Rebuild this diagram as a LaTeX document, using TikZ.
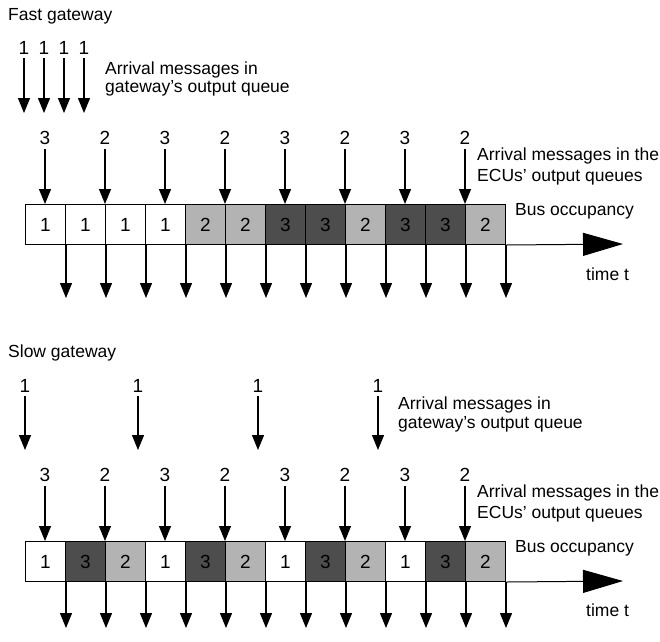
\documentclass[tikz,border=0pt]{standalone}
\usepackage{fontspec}
\setmainfont{Liberation Sans}
\usetikzlibrary{arrows.meta}
\definecolor{lightcell}{HTML}{B3B3B3}
\definecolor{darkcell}{HTML}{4D4D4D}
\tikzset{
  lbl/.style={font=\fontsize{17.5}{20}\selectfont, inner sep=0pt},
  num/.style={font=\fontsize{19}{21}\selectfont, inner sep=0pt},
  cell/.style={draw, line width=1pt, minimum size=40pt, inner sep=0pt, anchor=north west, font=\fontsize{19}{21}\selectfont},
  c1/.style={fill=white}, c2/.style={fill=lightcell}, c3/.style={fill=darkcell},
  arr/.style={line width=1.2pt, -{Triangle[length=15pt,width=12pt]}},
  axisarr/.style={line width=1pt, -{Triangle[length=40pt,width=23pt]}},
}
\begin{document}
\begin{tikzpicture}[x=1pt,y=-1pt]
\useasboundingbox[fill=white] (0,0) rectangle (660,641);
% ================= Fast gateway =================
\node[lbl, anchor=base west] (ftitle) at (8,20) {Fast gateway};
\foreach \x [count=\i] in {24,44,64,84} {
  \node[num, anchor=base] (fg\i) at (\x,54) {1};
  \coordinate (fge\i) at (\x,113);
  \draw[arr, shorten <=4pt] (fg\i) -- (fge\i);
}
\node[lbl, anchor=base west] (fgt1) at (105,74) {Arrival messages in};
\node[lbl, anchor=base west] (fgt2) at (105,92) {gateway's output queue};
\foreach \c [count=\i] in {1,1,1,1,2,2,3,3,2,3,3,2} {
  \node[cell, c\c] (f\i) at ({25+40*(\i-1)},204) {\c};
}
\foreach \x/\t [count=\i] in {45/3,105/2,165/3,225/2,285/3,345/2,405/3,465/2} {
  \node[num, anchor=base] (fl\i) at (\x,144) {\t};
  \draw[arr, shorten <=5pt] (fl\i) -- (fl\i |- f1.north);
}
\foreach \i in {1,...,12} {
  \path (f\i.south east) ++(0,53) coordinate (fd\i);
  \draw[arr] (f\i.south east) -- (fd\i);
}
\coordinate (fax) at (623,244);
\draw[axisarr] (f12.south east) -- (fax);
\node[lbl, anchor=base west] (fe1) at (477,160) {Arrival messages in the};
\node[lbl, anchor=base west] (fe2) at (477,181) {ECUs' output queues};
\node[lbl, anchor=base west] (fbus) at (515,215) {Bus occupancy};
\node[lbl, anchor=base west] (ftime) at (586,280) {time t};
% ================= Slow gateway =================
\node[lbl, anchor=base west] (stitle) at (8,357) {Slow gateway};
\foreach \x [count=\i] in {25,138,258,378} {
  \node[num, anchor=base] (sg\i) at (\x,392) {1};
  \coordinate (sge\i) at (\x,450);
  \draw[arr, shorten <=4pt] (sg\i) -- (sge\i);
}
\node[lbl, anchor=base west] (sgt1) at (398,409) {Arrival messages in};
\node[lbl, anchor=base west] (sgt2) at (398,428) {gateway's output queue};
\foreach \c [count=\i] in {1,3,2,1,3,2,1,3,2,1,3,2} {
  \node[cell, c\c] (s\i) at ({25+40*(\i-1)},541) {\c};
}
\foreach \x/\t [count=\i] in {45/3,105/2,165/3,225/2,285/3,345/2,405/3,465/2} {
  \node[num, anchor=base] (sl\i) at (\x,481) {\t};
  \draw[arr, shorten <=5pt] (sl\i) -- (sl\i |- s1.north);
}
\foreach \i in {1,...,12} {
  \path (s\i.south east) ++(0,46) coordinate (sd\i);
  \draw[arr] (s\i.south east) -- (sd\i);
}
\coordinate (sax) at (623,581);
\draw[axisarr] (s12.south east) -- (sax);
\node[lbl, anchor=base west] (se1) at (477,497) {Arrival messages in the};
\node[lbl, anchor=base west] (se2) at (477,518) {ECUs' output queues};
\node[lbl, anchor=base west] (sbus) at (515,552) {Bus occupancy};
\node[lbl, anchor=base west] (stime) at (586,616) {time t};
\end{tikzpicture}
\end{document}
